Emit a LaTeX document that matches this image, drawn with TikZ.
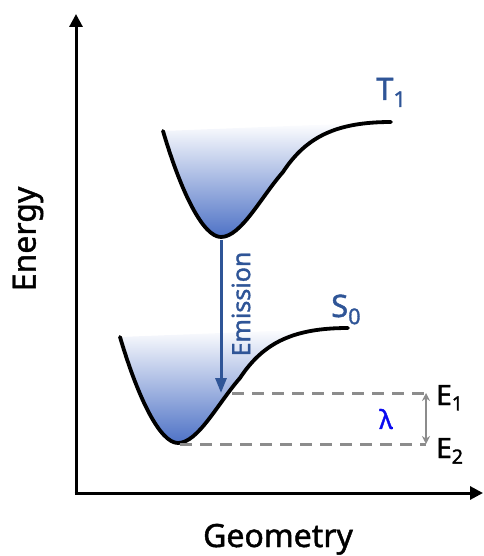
\documentclass[tikz,border=0pt]{standalone}
\usepackage{fontspec}
\setmainfont{Noto Sans}[FakeBold=1.4]
\usetikzlibrary{arrows.meta}
\definecolor{lblblue}{RGB}{47,85,151}
\definecolor{wellblue}{RGB}{78,114,198}
\definecolor{dashgray}{RGB}{140,140,140}
\definecolor{lamblue}{RGB}{10,10,240}
\newcommand\potwell{(-58,-106) .. controls (-40,-45) and (-18,0) .. (0,0) .. controls (20,0) and (40,-40) .. (62,-65) .. controls (85,-100) and (115,-115) .. (170,-115)}
\tikzset{
  axis/.style={line width=3pt,-{Triangle[width=13pt,length=13pt]}},
  curve/.style={line width=3.8pt,line cap=round,black},
  wellfill/.style={top color=white,bottom color=wellblue},
  emit/.style={line width=3pt,draw=lblblue,-{Triangle[width=11pt,length=15pt]}},
  level/.style={line width=3pt,draw=dashgray,dash pattern=on 12pt off 8pt},
  gap/.style={line width=1.8pt,draw=dashgray,{Stealth[width=8pt,length=8pt]}-{Stealth[width=8pt,length=8pt]}},
  lbl/.style={inner sep=0pt,text=lblblue,font=\fontsize{31}{36}\selectfont},
  elbl/.style={inner sep=0pt,text=black,font=\fontsize{28}{34}\selectfont},
  axlbl/.style={inner sep=0pt,font=\fontsize{32}{38}\selectfont}
}
\begin{document}
\begin{tikzpicture}[x=1pt,y=-1pt]
\useasboundingbox (0,0) rectangle (483,556);
% axes
\coordinate (origin) at (76,493);
\coordinate (ytip) at (76,14);
\coordinate (xtip) at (483,493);
\draw[axis] (origin) -- (ytip);
\draw[axis] ([xshift=-1.5pt]origin) -- (xtip);
% T1 well
\begin{scope}[shift={(221,237)}]
  \shade[wellfill] \potwell -- cycle;
  \draw[curve] \potwell;
\end{scope}
% S0 well
\begin{scope}[shift={(178,443)}]
  \shade[wellfill] \potwell -- cycle;
  \draw[curve] \potwell;
\end{scope}
\coordinate (T1min) at (221,240);
\coordinate (S0hit) at (221,393);
\coordinate (E1start) at (232,393);
\coordinate (S0min) at (180,444);
\coordinate (E1end) at (426,393);
\coordinate (E2end) at (426,444);
% emission
\draw[emit] (T1min) -- (S0hit);
\node[lbl,rotate=90,font=\fontsize{25}{30}\selectfont] (emission) at (241,304) {Emission};
% levels
\draw[level] (E1start) -- (E1end);
\draw[level] (S0min) -- (E2end);
\draw[gap] (E1end) -- (E2end);
\node[inner sep=0pt,text=lamblue,font=\fontsize{26}{30}\selectfont] (lambda) at (386,419) {λ};
\node[elbl,anchor=base west] (E1) at (436,405) {E\textsubscript{1}};
\node[elbl,anchor=base west] (E2) at (436,458) {E\textsubscript{2}};
% state labels
\node[lbl,anchor=base west] (T1) at (376,100) {T\textsubscript{1}};
\node[lbl,anchor=base west] (S0) at (331,317) {S\textsubscript{0}};
% axis labels
\node[axlbl,rotate=90] (energy) at (28,239) {Energy};
\node[axlbl,anchor=base] (geometry) at (278,547) {Geometry};
\end{tikzpicture}
\end{document}
